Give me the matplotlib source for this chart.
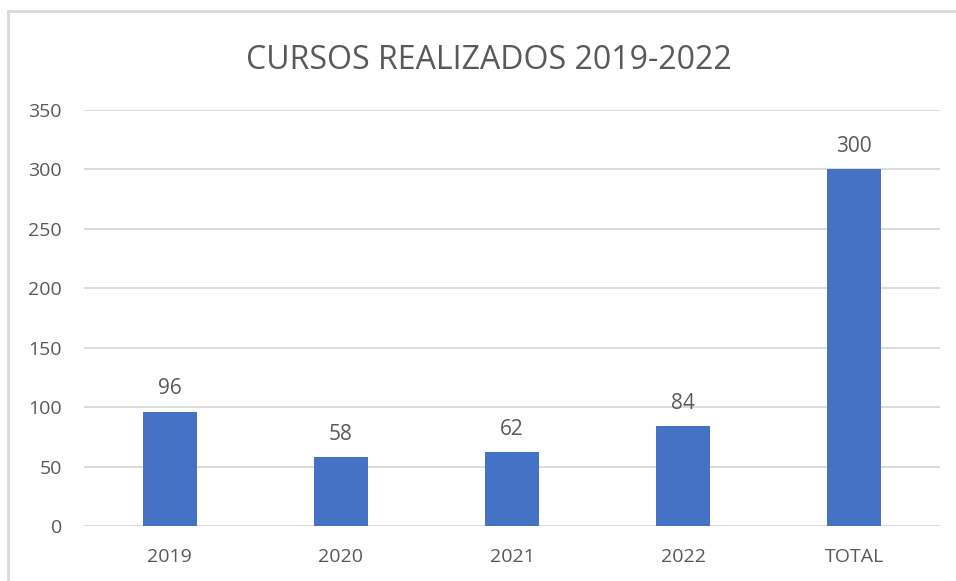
import matplotlib.pyplot as plt
from matplotlib.lines import Line2D

# datos del gráfico
categorias = ['2019', '2020', '2021', '2022', 'TOTAL']
cursos = [96, 58, 62, 84, 300]

azul = '#4472C4'
gris_texto = '#595959'
gris_rejilla = '#D9D9D9'

plt.rcParams['font.family'] = ['Open Sans', 'DejaVu Sans']

fig = plt.figure(figsize=(9.56, 5.81), dpi=100)
ax = fig.add_axes([0.088, 0.0947, 0.895, 0.716])

barras = ax.bar(categorias, cursos, width=0.316, color=azul, zorder=3)
ax.bar_label(barras, labels=[str(v) for v in cursos], padding=9,
             fontsize=15, color=gris_texto)

ax.set_ylim(0, 350)
ax.set_yticks(range(0, 351, 50))
ax.set_xlim(-0.5, len(categorias) - 0.5)
ax.grid(axis='y', color=gris_rejilla, linewidth=1.3, zorder=0)
ax.tick_params(length=0, labelsize=14, labelcolor=gris_texto)
ax.tick_params(axis='x', pad=16)
ax.tick_params(axis='y', pad=16)
for lado in ax.spines.values():
    lado.set_visible(False)

fig.text(0.511, 0.896, 'CURSOS REALIZADOS 2019-2022', ha='center', va='center',
         fontsize=23, color=gris_texto)

# marco del gráfico (solo se ve arriba e izquierda)
fig.add_artist(Line2D([8 / 956, 8 / 956], [0, 1 - 11 / 581], color='#D9D9D9',
                      linewidth=2, transform=fig.transFigure))
fig.add_artist(Line2D([8 / 956, 1], [1 - 11 / 581, 1 - 11 / 581], color='#D9D9D9',
                      linewidth=2, transform=fig.transFigure))

fig.savefig('out.png', dpi=100, facecolor='white')
